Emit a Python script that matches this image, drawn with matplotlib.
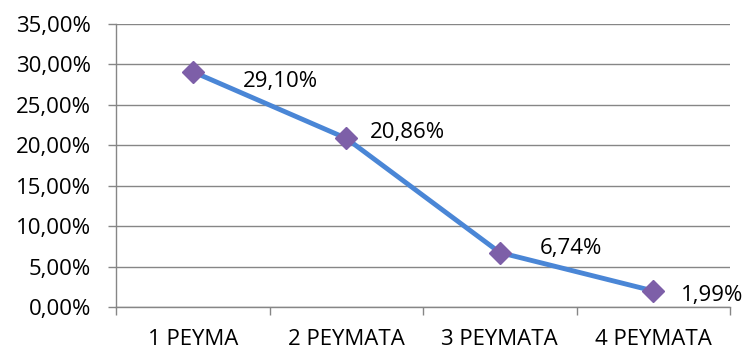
import matplotlib.pyplot as plt
from matplotlib.ticker import FuncFormatter, FixedLocator

# Share of cases by number of streams
categories = ["1 ΡΕΥΜΑ", "2 ΡΕΥΜΑΤΑ", "3 ΡΕΥΜΑΤΑ", "4 ΡΕΥΜΑΤΑ"]
shares = [29.10, 20.86, 6.74, 1.99]

# label offsets in points (dx, dy) from each marker
label_offsets = [(36, -7), (17, 4), (29, 3), (20, -3)]

plt.rcParams['font.family'] = ['Open Sans', 'DejaVu Sans']
fs = 16

fig = plt.figure(figsize=(7.43, 3.51), dpi=100)
ax = fig.add_axes([116 / 743, 44 / 351, 614 / 743, 283 / 351])

grid_col = "#868686"
x = list(range(len(categories)))

ax.plot(x, shares, color="#4A86D6", linewidth=3.5, zorder=3,
        marker="D", markersize=11, markerfacecolor="#7D5FA8",
        markeredgecolor="#7D5FA8")

for xi, v, (dx, dy) in zip(x, shares, label_offsets):
    ax.annotate(f"{v:.2f}%".replace(".", ","), (xi, v), xytext=(dx, dy),
                textcoords="offset points", ha="left", va="center",
                fontsize=fs, color="black", zorder=4)

ax.set_xlim(-0.5, 3.5)
ax.set_ylim(0, 35)
ax.set_yticks(range(0, 36, 5))
ax.yaxis.set_major_formatter(FuncFormatter(lambda v, p: f"{v:.2f}%".replace(".", ",")))
ax.grid(axis="y", color=grid_col, linewidth=1)
ax.set_axisbelow(True)

ax.set_xticks(x)
ax.set_xticklabels(categories)
ax.xaxis.set_minor_locator(FixedLocator([-0.5, 0.5, 1.5, 2.5, 3.5]))
ax.tick_params(axis="x", which="major", length=0, pad=16, labelsize=fs)
ax.tick_params(axis="x", which="minor", length=6, width=1, color=grid_col)
ax.tick_params(axis="y", length=6, width=1, color=grid_col, pad=12, labelsize=fs)

for side in ["top", "right"]:
    ax.spines[side].set_visible(False)
for side in ["left", "bottom"]:
    ax.spines[side].set_color(grid_col)
    ax.spines[side].set_linewidth(1)

fig.savefig("out.png", dpi=100)
